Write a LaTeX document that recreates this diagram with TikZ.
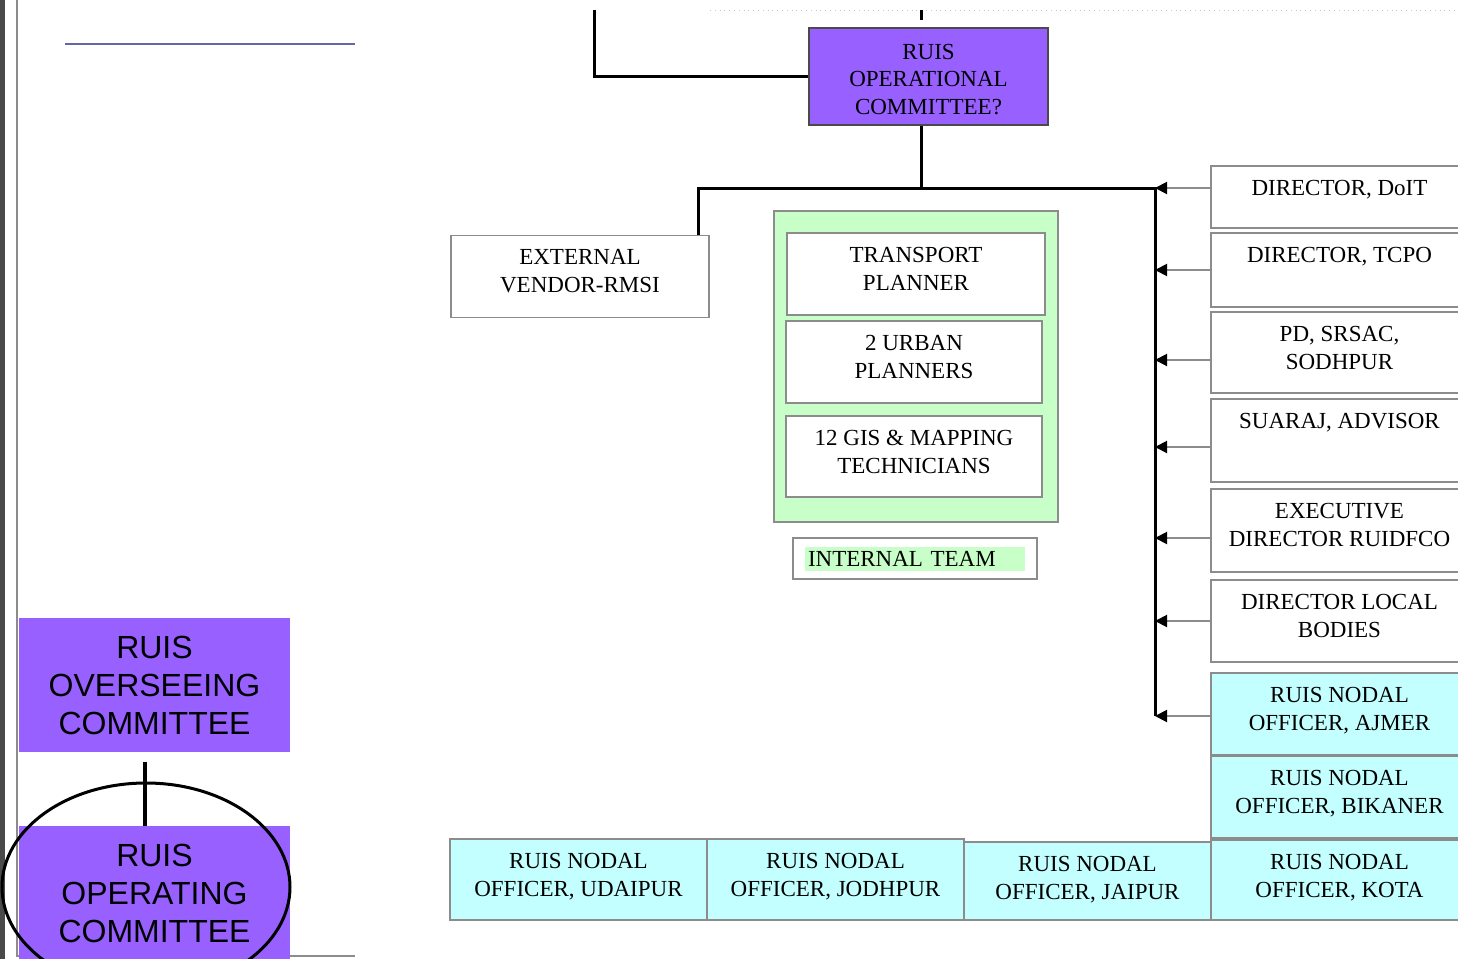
\documentclass[tikz,border=0pt]{standalone}
\usepackage{fontspec}
\setmainfont{Liberation Serif}
\newfontfamily\slidefont{Liberation Sans}
\usetikzlibrary{arrows.meta}
\definecolor{ruispurple}{HTML}{9760FF}
\definecolor{nodalcyan}{HTML}{C4FFFF}
\definecolor{teamgreen}{HTML}{C8FFC8}
\definecolor{rulegray}{HTML}{8C8C8C}
\definecolor{slideblue}{HTML}{6666A6}
\definecolor{edgedark}{HTML}{4A4A4A}

\begin{document}
\begin{tikzpicture}[x=0.5pt, y=-0.5pt,
    orgbox/.style={draw=rulegray, line width=0.9pt, fill=white, minimum width=128.5pt, minimum height=41pt, inner sep=0pt},
    nodalbox/.style={orgbox, fill=nodalcyan},
    boxtext/.style={anchor=north, yshift=-7.2pt, inner sep=0pt, align=center, font=\fontsize{11.5}{14}\selectfont},
    slidebox/.style={fill=ruispurple, minimum width=135.5pt, minimum height=67pt, align=center, font=\slidefont\fontsize{16}{19}\selectfont},
    link/.style={line width=1.5pt},
    feed/.style={draw=rulegray, line width=1pt, -{Triangle[length=6pt, width=6pt, color=black]}}]
    \useasboundingbox (0,0) rectangle (1458,959);

    % Slide frame
    \fill[edgedark] (0,0) rectangle (5,959);
    \draw[rulegray, line width=1pt] (16.5,0) -- (16.5,956) -- (355,956);
    \draw[slideblue, line width=1.1pt] (65,44) -- (355,44);
    \draw[rulegray!50, dotted] (710,10) -- (1458,10);

    % Committees on the left
    \node[slidebox] (over) at (154.5,685) {RUIS\\OVERSEEING\\COMMITTEE};
    \node[slidebox] (oper) at (154.5,893) {RUIS\\OPERATING\\COMMITTEE};
    \draw[line width=1.5pt] (146,887) ellipse [x radius=72pt, y radius=52pt];
    \draw[line width=2pt] ([xshift=-4.75pt, yshift=-5pt]over.south) -- ([xshift=-4.75pt]oper.north);

    % Operational committee
    \node[draw=edgedark, line width=0.9pt, fill=ruispurple, minimum width=119.5pt, minimum height=48.5pt,
        label={[yshift=-1.5pt, inner sep=0pt, align=center, font=\fontsize{11.5}{13.75}\selectfont]center:{RUIS\\OPERATIONAL\\COMMITTEE?}}] (opc) at (928.5,76.5) {};
    \coordinate (topl) at (594,10);
    \coordinate (toptick) at (921,10);
    \draw[link] (topl) |- (opc.west);
    \draw[link] (toptick) -- ++(0,10);

    % Bus
    \coordinate (busL) at (698,188);
    \coordinate (busR) at (1155,188);

    % External vendor
    \node[orgbox, minimum width=129pt, label={[boxtext]north:{EXTERNAL\\VENDOR-RMSI}}] (vendor) at (580,276.5) {};

    % Internal team
    \node[draw=rulegray, line width=0.9pt, fill=teamgreen, minimum width=142pt, minimum height=155.5pt] (team) at (916,366.5) {};
    \node[orgbox, minimum width=129pt, label={[boxtext]north:{TRANSPORT\\PLANNER}}] (transport) at (916,274) {};
    \node[orgbox, minimum width=128pt, label={[boxtext]north:{2 URBAN\\PLANNERS}}] (urban) at (914,362) {};
    \node[orgbox, minimum width=128pt, minimum height=40.5pt, label={[boxtext]north:{12 GIS \& MAPPING\\TECHNICIANS}}] (gis) at (914,456.5) {};
    \node[draw=rulegray, line width=0.9pt, minimum width=122pt, minimum height=20.5pt,
        label={[fill=teamgreen, text width=107pt, inner xsep=1.5pt, inner ysep=0pt, minimum height=12pt, align=left, font=\fontsize{11.5}{14}\selectfont]center:INTERNAL TEAM}] (internal) at (915,558.5) {};

    % Departments on the right
    \node[orgbox, minimum height=31pt, label={[boxtext]north:{DIRECTOR, DoIT}}] (doit) at (1339.5,197) {};
    \node[orgbox, minimum height=37pt, label={[boxtext]north:{DIRECTOR, TCPO}}] (tcpo) at (1339.5,270) {};
    \node[orgbox, minimum height=40.5pt, label={[boxtext]north:{PD, SRSAC,\\SODHPUR}}] (srsac) at (1339.5,352.5) {};
    \node[orgbox, minimum height=41.5pt, label={[boxtext]north:{SUARAJ, ADVISOR}}] (suaraj) at (1339.5,440.5) {};
    \node[orgbox, minimum height=41.5pt, label={[boxtext]north:{EXECUTIVE\\DIRECTOR RUIDFCO}}] (ruidfco) at (1339.5,530.5) {};
    \node[orgbox, label={[boxtext]north:{DIRECTOR LOCAL\\BODIES}}] (localb) at (1339.5,621) {};

    % Nodal officers
    \node[nodalbox, label={[boxtext]north:{RUIS NODAL\\OFFICER, AJMER}}] (ajmer) at (1339.5,714) {};
    \node[nodalbox, label={[boxtext]north:{RUIS NODAL\\OFFICER, BIKANER}}] (bikaner) at (1339.5,797) {};
    \node[nodalbox, minimum height=40pt, label={[boxtext]north:{RUIS NODAL\\OFFICER, KOTA}}] (kota) at (1339.5,880) {};
    \node[nodalbox, minimum height=39pt, minimum width=123.5pt, label={[boxtext]north:{RUIS NODAL\\OFFICER, JAIPUR}}] (jaipur) at (1087.5,881) {};
    \node[nodalbox, minimum height=40.5pt, label={[boxtext]north:{RUIS NODAL\\OFFICER, JODHPUR}}] (jodhpur) at (835.5,879.5) {};
    \node[nodalbox, minimum height=40.5pt, label={[boxtext]north:{RUIS NODAL\\OFFICER, UDAIPUR}}] (udaipur) at (578.5,879.5) {};

    % Lines
    \draw[link] ([xshift=-3.75pt]opc.south) -- ([xshift=-3.75pt]opc.south |- busR);
    \draw[link] (vendor.north -| busL) -- (busL) -- (busR) -- ([yshift=-1pt]ajmer.west -| busR);

    % Arrows
    \draw[feed] (doit.west |- busR) -- (busR);
    \draw[feed] (tcpo.west) -- (tcpo.west -| busR);
    \draw[feed] ([yshift=-3.75pt]srsac.west) -- ([yshift=-3.75pt]srsac.west -| busR);
    \draw[feed] ([yshift=-3.25pt]suaraj.west) -- ([yshift=-3.25pt]suaraj.west -| busR);
    \draw[feed] ([yshift=-3.75pt]ruidfco.west) -- ([yshift=-3.75pt]ruidfco.west -| busR);
    \draw[feed] (localb.west) -- (localb.west -| busR);
    \draw[feed] ([yshift=-1pt]ajmer.west) -- ([yshift=-1pt]ajmer.west -| busR);
\end{tikzpicture}
\end{document}
